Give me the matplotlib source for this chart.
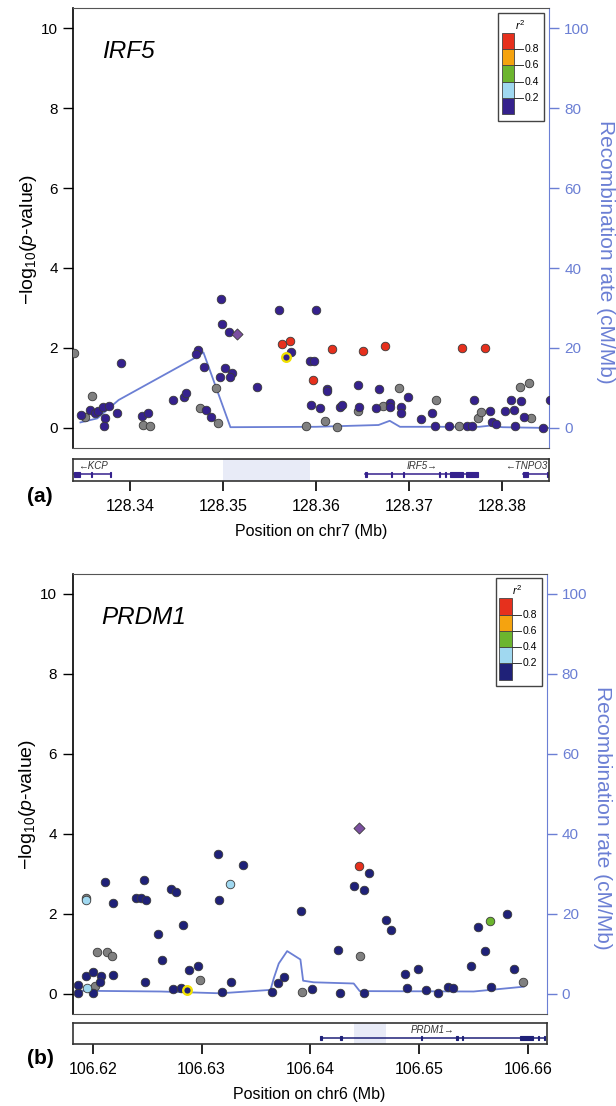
import numpy as np
import matplotlib
matplotlib.use('Agg')
import matplotlib.pyplot as plt
from matplotlib.patches import Rectangle

plt.rcParams['font.family'] = ['Liberation Sans', 'DejaVu Sans']
plt.rcParams['mathtext.fontset'] = 'custom'
plt.rcParams['mathtext.rm'] = 'Liberation Sans'
plt.rcParams['mathtext.it'] = 'Liberation Sans:italic'

# ---------------- panel (a): IRF5, chr7 ----------------
# r2: nan = no LD info (grey)
a_pos = [128.3340, 128.3348, 128.3352, 128.3359, 128.3357, 128.3363, 128.3366, 128.3371, 128.3373, 128.3372,
         128.3378, 128.3386, 128.3390, 128.3413, 128.3420, 128.3414, 128.3422, 128.3446, 128.3458, 128.3460,
         128.3473, 128.3471, 128.3480, 128.3475, 128.3482, 128.3487, 128.3495, 128.3493, 128.3498, 128.3499,
         128.3506, 128.3502, 128.3497, 128.3510, 128.3508, 128.3537, 128.3560, 128.3563, 128.3572, 128.3568,
         128.3573, 128.3600, 128.3593, 128.3598, 128.3597, 128.3617, 128.3612, 128.3612, 128.3595, 128.3604,
         128.3610, 128.3589, 128.3622, 128.3626, 128.3650, 128.3674, 128.3757, 128.3781, 128.3628, 128.3645,
         128.3646, 128.3645, 128.3664, 128.3667, 128.3672, 128.3679, 128.3679, 128.3689, 128.3691, 128.3691,
         128.3699, 128.3713, 128.3724, 128.3729, 128.3728, 128.3743, 128.3753, 128.3762, 128.3767, 128.3769,
         128.3774, 128.3777, 128.3787, 128.3789, 128.3793, 128.3803, 128.3812, 128.3809, 128.3820, 128.3819,
         128.3828, 128.3823, 128.3831, 128.3814, 128.3844, 128.3851]
a_logp = [1.87, 0.33, 0.28, 0.81, 0.45, 0.38, 0.43, 0.52, 0.24, 0.06,
          0.55, 0.38, 1.62, 0.30, 0.38, 0.08, 0.05, 0.71, 0.78, 0.88,
          1.95, 1.84, 1.52, 0.51, 0.45, 0.27, 0.12, 1.01, 3.23, 2.60,
          2.39, 1.50, 1.28, 1.38, 1.27, 1.02, 2.95, 2.10, 2.18, 1.78,
          1.90, 2.95, 1.68, 1.68, 1.20, 1.97, 0.98, 0.93, 0.58, 0.51,
          0.18, 0.06, 0.02, 0.53, 1.93, 2.05, 2.00, 2.00, 0.57, 1.08,
          0.52, 0.43, 0.50, 0.97, 0.55, 0.63, 0.53, 1.01, 0.52, 0.37,
          0.77, 0.23, 0.37, 0.70, 0.05, 0.05, 0.06, 0.05, 0.05, 0.70,
          0.24, 0.39, 0.42, 0.14, 0.10, 0.42, 0.45, 0.70, 0.68, 1.03,
          1.13, 0.28, 0.25, 0.05, 0.00, 0.70]
nan = np.nan
a_r2 = [nan, 0.1, nan, nan, 0.1, 0.1, 0.1, 0.1, 0.1, 0.1,
        0.1, 0.1, 0.1, 0.1, 0.1, nan, nan, 0.1, 0.1, 0.1,
        0.1, 0.1, 0.1, nan, 0.1, 0.1, nan, nan, 0.1, 0.1,
        0.1, 0.1, 0.1, 0.1, 0.1, 0.1, 0.1, 0.9, 0.9, 0.1,
        0.1, 0.1, 0.1, 0.1, 0.9, 0.9, 0.1, 0.1, 0.1, 0.1,
        nan, nan, nan, 0.1, 0.9, 0.9, 0.9, 0.9, 0.1, 0.1,
        0.1, nan, 0.1, 0.1, nan, 0.1, 0.1, nan, 0.1, 0.1,
        0.1, 0.1, 0.1, nan, 0.1, 0.1, nan, 0.1, 0.1, 0.1,
        nan, nan, 0.1, 0.1, 0.1, 0.1, 0.1, 0.1, 0.1, nan,
        nan, 0.1, nan, 0.1, 0.1, 0.1]
a_lead = (128.3515, 2.35)
a_ring = (128.3568, 1.78)
a_rec_pos = [128.3347, 128.3365, 128.3388, 128.3472, 128.3479, 128.3508, 128.3600, 128.3667,
             128.3679, 128.3690, 128.3775, 128.3787, 128.3800, 128.3851]
a_rec_rate = [1.4, 2.4, 7.0, 17.8, 18.9, 0.2, 0.3, 0.75, 1.8, 0.3, 0.3, 0.6, 0.2, 0.0]
a_genes = [
    dict(name='KCP', strand='-', start=128.3340, end=128.3380, ha='center',
         exons=[(128.3340, 128.3347), (128.33579, 128.33590), (128.33790, 128.33800)]),
    dict(name='IRF5', strand='+', start=128.36529, end=128.37739, ha='center',
         exons=[(128.36529, 128.36545), (128.36806, 128.36816), (128.36938, 128.36948),
                (128.37317, 128.37327), (128.37380, 128.37390), (128.37436, 128.37576),
                (128.37604, 128.37739)]),
    dict(name='TNPO3', strand='-', start=128.38216, end=128.38481, ha='right',
         exons=[(128.38216, 128.38279), (128.38474, 128.38484)]),
]
a_region = (128.3500, 128.3593)
a_xlim = (128.3339, 128.3850)
a_xticks = [128.34, 128.35, 128.36, 128.37, 128.38]

# ---------------- panel (b): PRDM1, chr6 ----------------
b_pos = [106.61862, 106.61862, 106.61949, 106.62018, 106.61939, 106.62006, 106.62071, 106.62064, 106.62000, 106.62040,
         106.62132, 106.62172, 106.61933, 106.61938, 106.62110, 106.62184, 106.62187, 106.62401, 106.62445, 106.62493,
         106.62466, 106.62478, 106.62601, 106.62634, 106.62714, 106.62763, 106.62739, 106.62806, 106.62861, 106.62833,
         106.62888, 106.62962, 106.62983, 106.63152, 106.63161, 106.63262, 106.63384, 106.63185, 106.63271, 106.63644,
         106.63700, 106.63755, 106.63911, 106.63924, 106.64012, 106.64254, 106.64276, 106.64444, 106.64539, 106.64401,
         106.64496, 106.64695, 106.64744, 106.64459, 106.64490, 106.64870, 106.64986, 106.64891, 106.65059, 106.65176,
         106.65265, 106.65307, 106.65479, 106.65541, 106.65654, 106.65605, 106.65807, 106.65660, 106.65868, 106.65954]
b_logp = [0.21, 0.02, 0.15, 0.19, 0.44, 0.55, 0.44, 0.29, 0.02, 1.05,
          1.03, 0.95, 2.38, 2.34, 2.80, 2.27, 0.47, 2.40, 2.40, 2.35,
          2.84, 0.30, 1.49, 0.85, 2.61, 2.55, 0.12, 0.15, 0.09, 1.71,
          0.60, 0.68, 0.35, 3.50, 2.34, 2.75, 3.21, 0.03, 0.30, 0.05,
          0.26, 0.41, 2.06, 0.03, 0.11, 1.08, 0.02, 3.19, 3.02, 2.68,
          2.59, 1.85, 1.58, 0.94, 0.02, 0.48, 0.62, 0.14, 0.10, 0.02,
          0.16, 0.14, 0.68, 1.66, 1.82, 1.06, 1.98, 0.17, 0.61, 0.28]
b_r2 = [0.1, 0.1, 0.3, nan, 0.1, 0.1, 0.1, 0.1, 0.1, nan,
        nan, nan, nan, 0.3, 0.1, 0.1, 0.1, 0.1, 0.1, 0.1,
        0.1, 0.1, 0.1, 0.1, 0.1, 0.1, 0.1, 0.1, 0.1, 0.1,
        0.1, 0.1, nan, 0.1, 0.1, 0.3, 0.1, 0.1, 0.1, 0.1,
        0.1, 0.1, 0.1, nan, 0.1, 0.1, 0.1, 0.9, 0.1, 0.1,
        0.1, 0.1, 0.1, nan, 0.1, 0.1, 0.1, 0.1, 0.1, 0.1,
        0.1, 0.1, 0.1, 0.1, 0.5, 0.1, 0.1, 0.1, 0.1, nan]
b_lead = (106.64444, 4.15)
b_ring = (106.62861, 0.09)
b_rec_pos = [106.61841, 106.62622, 106.63173, 106.63633, 106.63663, 106.63709, 106.63786, 106.63908,
             106.63933, 106.64030, 106.64398, 106.64453, 106.65500, 106.65960]
b_rec_rate = [0.7, 0.5, 0.05, 0.9, 3.8, 7.5, 10.6, 8.5, 3.2, 2.8, 2.5, 0.6, 0.5, 1.7]
b_genes = [
    dict(name='PRDM1', strand='+', start=106.64097, end=106.66152, ha='center',
         exons=[(106.64090, 106.64104), (106.64276, 106.64286), (106.65017, 106.65027),
                (106.65342, 106.65352), (106.65392, 106.65402), (106.65931, 106.66047),
                (106.66089, 106.66099), (106.66147, 106.66157)]),
]
b_region = (106.64397, 106.64694)
b_xlim = (106.61813, 106.66170)
b_xticks = [106.62, 106.63, 106.64, 106.65, 106.66]

ld_bins = [0.2, 0.4, 0.6, 0.8]
ld_labels = ['0.2', '0.4', '0.6', '0.8']

BLUE = '#6b7fd4'
GREY = '#808080'
W, H = 616.0, 1106.0


def box(left, top, right, bottom):
    return [left / W, 1 - bottom / H, (right - left) / W, (bottom - top) / H]


def panel(fig, main_box, gene_box, pos, logp, r2, lead, ring, rec_pos, rec_rate,
          genes, region, xlim, xticks, title, chrom, letter, letter_y, navy):
    ld_colors = [navy, '#a0d8f0', '#6cb52e', '#f5a30f', '#e6301d']
    ax = fig.add_axes(box(*main_box))
    ax2 = ax.twinx()
    ax.set_zorder(ax2.get_zorder() + 1)
    ax.patch.set_visible(False)

    # recombination rate
    ax2.plot(rec_pos, rec_rate, color=BLUE, lw=1.3)
    ax2.set_ylim(-5, 105)
    ax2.set_yticks(np.arange(0, 101, 20))
    ax2.tick_params(axis='y', colors=BLUE, labelsize=11, length=7, width=1, pad=4)
    ax2.set_ylabel('Recombination rate (cM/Mb)', color=BLUE, fontsize=15, rotation=270, va='center')
    ax2.yaxis.set_label_coords(1.118, 0.445)
    for s in ['left', 'top', 'bottom']:
        ax2.spines[s].set_visible(False)
    ax2.spines['right'].set_color(BLUE)

    # SNPs
    pos = np.array(pos)
    logp = np.array(logp)
    r2 = np.array(r2)
    miss = np.isnan(r2)
    ax.scatter(pos[miss], logp[miss], s=38, c=GREY, edgecolors='#3a3a3a', linewidths=0.6, zorder=3)
    cls = np.digitize(np.where(miss, 0, r2), ld_bins)
    for k in range(5):
        m = (~miss) & (cls == k)
        if m.any():
            ax.scatter(pos[m], logp[m], s=38, c=ld_colors[k], edgecolors='#3a3a3a',
                       linewidths=0.6, zorder=4 + k)
    ax.scatter([ring[0]], [ring[1]], s=38, c=navy, edgecolors='#f2e200', linewidths=1.7, zorder=10)
    ax.scatter([lead[0]], [lead[1]], s=32, marker='D', c='#7b4fa0', edgecolors='#3a3a3a',
               linewidths=0.6, zorder=11)

    ax.set_xlim(*xlim)
    ax.set_ylim(-0.5, 10.5)
    ax.set_yticks(np.arange(0, 11, 2))
    ax.set_xticks([])
    ax.tick_params(axis='y', labelsize=11, length=7, width=1, pad=4)
    ax.set_ylabel(r'$-$log$_{10}$($p$-value)', fontsize=14)
    ax.yaxis.set_label_coords(-0.072, 0.475)
    ax.spines['right'].set_visible(False)
    ax.spines['left'].set_linewidth(1.2)
    for s in ['top', 'bottom']:
        ax.spines[s].set_color('#555555')
    ax.text(0.06, 0.90, title, transform=ax.transAxes, fontsize=17.5, style='italic', va='center')

    # r2 legend
    tr = ax.transAxes
    ax.add_patch(Rectangle((0.8935, 0.744), 0.0965, 0.245, transform=tr, facecolor='white',
                           edgecolor='#444444', lw=1, zorder=20))
    x0, w, y0, h = 0.9006, 0.0265, 0.7584, 0.0371
    for k in range(5):
        ax.add_patch(Rectangle((x0, y0 + k * h), w, h, transform=tr, facecolor=ld_colors[k],
                               edgecolor='#444444', lw=0.6, zorder=21))
    for k, lab in enumerate(ld_labels):
        yy = y0 + (k + 1) * h
        ax.plot([x0 + w, 0.9454], [yy, yy], transform=tr, color='#333333', lw=0.7, zorder=22)
        ax.text(0.9496, yy, lab, transform=tr, fontsize=7.5, va='center', ha='left', zorder=22)
    ax.text(0.939, 0.962, r'$r^2$', transform=tr, fontsize=8, ha='center', va='center', zorder=22)

    # gene track
    g = fig.add_axes(box(*gene_box))
    g.set_xlim(*xlim)
    g.set_ylim(0, 1)
    g.set_yticks([])
    g.axvspan(region[0], region[1], color='#e8ebf7', lw=0)
    for gene in genes:
        g.plot([gene['start'], gene['end']], [0.3, 0.3], color=navy, lw=1.1)
        for e0, e1 in gene['exons']:
            g.add_patch(Rectangle((e0, 0.2), e1 - e0, 0.2, facecolor=navy, edgecolor=navy, lw=0.8))
        lab = ('\u2190' + gene['name']) if gene['strand'] == '-' else (gene['name'] + '\u2192')
        if gene['ha'] == 'right':
            g.text(gene['end'], 0.68, lab, fontsize=7, style='italic', ha='right', va='center', color='#333333')
        else:
            g.text((gene['start'] + gene['end']) / 2, 0.68, lab, fontsize=7, style='italic',
                   ha='center', va='center', color='#333333')
    g.set_xticks(xticks)
    g.set_xticklabels(['%.2f' % t for t in xticks])
    g.tick_params(axis='x', labelsize=11.5, length=7, width=1.2, pad=6)
    for s in g.spines.values():
        s.set_linewidth(1.2)
        s.set_color('#333333')
    g.set_xlabel('Position on %s (Mb)' % chrom, fontsize=11.5, labelpad=7)
    fig.text(40 / W, 1 - letter_y / H, letter, fontsize=15, weight='bold', ha='center', va='center')


fig = plt.figure(figsize=(6.16, 11.06), dpi=100)
panel(fig, (73, 8, 549, 448), (73, 459, 549, 481), a_pos, a_logp, a_r2, a_lead, a_ring,
      a_rec_pos, a_rec_rate, a_genes, a_region, a_xlim, a_xticks, 'IRF5', 'chr7', '(a)', 496.7, '#35218d')
panel(fig, (72.5, 573.5, 546.5, 1013.5), (72.5, 1023.3, 546.5, 1044), b_pos, b_logp, b_r2, b_lead, b_ring,
      b_rec_pos, b_rec_rate, b_genes, b_region, b_xlim, b_xticks, 'PRDM1', 'chr6', '(b)', 1058.3, '#1f2178')
fig.savefig('out.png', dpi=100)
